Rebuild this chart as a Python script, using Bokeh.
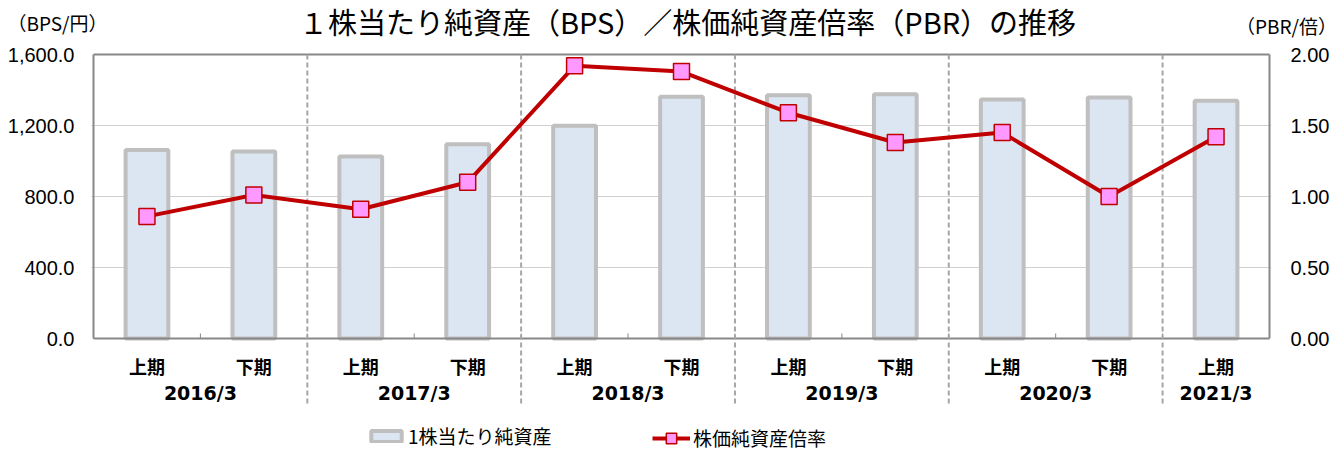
from bokeh.plotting import figure
from bokeh.layouts import column
from bokeh.models import (Range1d, LinearAxis, FixedTicker, NumeralTickFormatter,
                          ColumnDataSource, Legend, LegendItem)
from bokeh.core.properties import value
from bokeh.embed import file_html
from bokeh.resources import INLINE

# ---------------- data ----------------
halves = ["上期", "下期", "上期", "下期", "上期", "下期", "上期", "下期", "上期", "下期", "上期"]
years = ["2016/3", "2017/3", "2018/3", "2019/3", "2020/3", "2021/3"]
halves_per_year = [2, 2, 2, 2, 2, 1]
bps = [1062, 1053, 1025, 1095, 1198, 1362, 1371, 1376, 1346, 1358, 1339]
pbr = [0.86, 1.01, 0.91, 1.10, 1.92, 1.88, 1.59, 1.38, 1.45, 1.00, 1.42]
bps_ticks = [0, 400, 800, 1200, 1600]
pbr_ticks = [0, 0.5, 1.0, 1.5, 2.0]
title_text = "１株当たり純資産（BPS）／株価純資産倍率（PBR）の推移"
left_unit = "（BPS/円）"
right_unit = "（PBR/倍）"
legend_bps = "1株当たり純資産"
legend_pbr = "株価純資産倍率"

# ---------------- layout ----------------
W = 1340
TOP_H = 44
MAIN_TOP = 8
FRAME_L = 91
FRAME_W = 1180
FRAME_H = 400
H = MAIN_TOP + FRAME_H
N = len(halves)
px_per_cat = (FRAME_W - 4) / N
xpad = 2 / px_per_cat
BPS_MAX = bps_ticks[-1]
PBR_MAX = pbr_ticks[-1]
plot_px = 284                        # pixels between 0 and max
below_px = FRAME_H - 2 - plot_px     # frame pixels below the zero line
bps_per_px = BPS_MAX / plot_px
pbr_per_px = PBR_MAX / plot_px

JP = "Noto Sans CJK JP"
NUM = "Liberation Sans"

# ---------------- header (title + unit captions) ----------------
top = figure(width=W, height=TOP_H, output_backend="svg", toolbar_location=None,
             x_range=Range1d(0, W), y_range=Range1d(TOP_H, 0),
             x_axis_location=None, y_axis_location=None,
             min_border_left=0, min_border_right=0, min_border_top=0, min_border_bottom=0)
top.frame_align = False
top.outline_line_color = None
top.grid.visible = False
top.text(x=[687], y=[20], text=[title_text], text_align="center", text_baseline="middle",
         text_font=value(JP), text_font_size="29px", text_color="#000000")
top.text(x=[57], y=[21.5], text=[left_unit], text_align="center", text_baseline="middle",
         text_font=value(JP), text_font_size="19px", text_color="#000000")
top.text(x=[1286], y=[24.5], text=[right_unit], text_align="center", text_baseline="middle",
         text_font=value(JP), text_font_size="19px", text_color="#000000")

# ---------------- main chart ----------------
p = figure(width=W, height=H, output_backend="svg", toolbar_location=None,
           x_range=Range1d(-xpad, N + xpad),
           y_range=Range1d(-below_px * bps_per_px, BPS_MAX + 2 * bps_per_px),
           x_axis_location=None,
           min_border_left=FRAME_L, min_border_right=W - FRAME_L - FRAME_W,
           min_border_top=MAIN_TOP, min_border_bottom=0)
p.frame_align = False
p.outline_line_color = None
p.background_fill_color = "white"
p.border_fill_color = "white"
p.xgrid.visible = False

ya = p.yaxis[0]
ya.ticker = FixedTicker(ticks=bps_ticks)
ya.formatter = NumeralTickFormatter(format="0,0.0")
ya.axis_line_color = None
ya.major_tick_line_color = None
ya.minor_tick_line_color = None
ya.major_tick_out = 0
ya.major_tick_in = 0
ya.minor_tick_out = 0
ya.major_label_standoff = 17
ya.major_label_text_font = NUM
ya.major_label_text_font_size = "20px"
ya.major_label_text_color = "#000000"

p.ygrid.ticker = FixedTicker(ticks=bps_ticks[1:-1])
p.ygrid.grid_line_color = "#A0A0A0"
p.ygrid.grid_line_dash = "1 1"
p.ygrid.grid_line_width = 1

p.extra_y_ranges = {"pbr": Range1d(-below_px * pbr_per_px, PBR_MAX + 2 * pbr_per_px)}
ra = LinearAxis(y_range_name="pbr", ticker=FixedTicker(ticks=pbr_ticks),
                formatter=NumeralTickFormatter(format="0.00"))
ra.axis_line_color = None
ra.major_tick_line_color = None
ra.minor_tick_line_color = None
ra.major_tick_out = 0
ra.major_tick_in = 0
ra.minor_tick_out = 0
ra.major_label_standoff = 19
ra.major_label_text_font = NUM
ra.major_label_text_font_size = "20px"
ra.major_label_text_color = "#000000"
p.add_layout(ra, "right")

xs = [i + 0.5 for i in range(N)]
src = ColumnDataSource(dict(x=xs, bps=bps, pbr=pbr, half=halves))

bars = p.vbar(x="x", top="bps", bottom=0, width=0.4, source=src,
              fill_color="#DCE6F2", line_color="#BFBFBF", line_width=4)

# plot-area border
p.multi_line(xs=[[0, N], [0, N], [0, 0], [N, N]],
             ys=[[0, 0], [BPS_MAX, BPS_MAX], [0, BPS_MAX], [0, BPS_MAX]],
             line_color="#888888", line_width=2)

# small inner tick marks on the category axis
tick_x = list(range(1, N))
p.segment(x0=tick_x, x1=tick_x, y0=[0] * len(tick_x), y1=[5 * bps_per_px] * len(tick_x),
          line_color="#888888", line_width=1)

# year-group dividers
bounds = []
acc = 0
for n in halves_per_year[:-1]:
    acc += n
    bounds.append(acc)
div_bottom = -67 * bps_per_px
p.segment(x0=bounds, x1=bounds, y0=[BPS_MAX] * len(bounds), y1=[div_bottom] * len(bounds),
          line_color="#A6A6A6", line_width=2, line_dash="5 3")

ln = p.line(x="x", y="pbr", source=src, y_range_name="pbr",
            line_color="#C00000", line_width=4)
mk = p.scatter(x="x", y="pbr", source=src, y_range_name="pbr", marker="square",
               size=16, fill_color="#FF99FF", line_color="#C00000", line_width=1.5)

# category labels
p.text(x=xs, y=[-27 * bps_per_px] * N, text=halves, text_align="center",
       text_baseline="middle", text_font=value(JP), text_font_size="18px",
       text_font_style="bold", text_color="#000000")
yc = []
acc = 0
for n in halves_per_year:
    yc.append(acc + n / 2)
    acc += n
p.text(x=yc, y=[-54 * bps_per_px] * len(years), text=years, text_align="center",
       text_baseline="middle", text_font=value("DejaVu Sans"), text_font_size="19px",
       text_font_style="bold", text_color="#000000")


def make_legend(item, loc, gh):
    return Legend(items=[item], location=loc, orientation="horizontal",
                  padding=0, margin=0, border_line_color=None,
                  background_fill_alpha=0, glyph_width=38, glyph_height=gh,
                  label_height=16, label_standoff=3,
                  label_text_font=JP, label_text_font_size="19px",
                  label_text_color="#000000")


p.add_layout(make_legend(LegendItem(label=legend_bps, renderers=[bars]), (276, 3), 14), "center")
p.add_layout(make_legend(LegendItem(label=legend_pbr, renderers=[ln, mk]), (561, 1), 26), "center")

layout = column(top, p, spacing=0)
open("out.html", "w").write(file_html(layout, INLINE))
